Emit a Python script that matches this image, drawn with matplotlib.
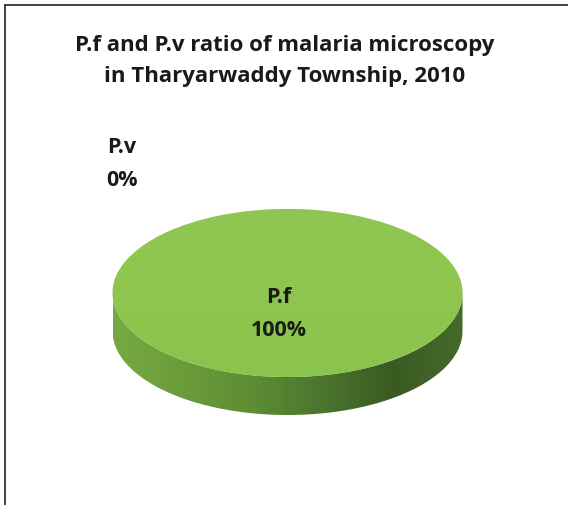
import numpy as np
import matplotlib
matplotlib.use("Agg")
import matplotlib.pyplot as plt
from matplotlib.path import Path
from matplotlib.patches import PathPatch
from matplotlib.lines import Line2D
from matplotlib.colors import LinearSegmentedColormap

title = "P.f and P.v ratio of malaria microscopy\nin Tharyarwaddy Township, 2010"
categories = ["P.f", "P.v"]
values = [100, 0]
colors = ["#8dc54d", "#c0504d"]

W, H = 568, 506
fig = plt.figure(figsize=(W / 100, H / 100), dpi=100)
fig.patch.set_facecolor("white")
ax = fig.add_axes([0, 0, 1, 1])

# ellipse geometry in pixels
cx_px, cy_px = 287.5, H - 294
a, b = 175.0, 84.0
depth = 38.0 / b

xlim = (-cx_px / a, (W - cx_px) / a)
ylim = (-cy_px / b, (H - cy_px) / b)

# side of the 3D pie, with horizontal gradient
t = np.linspace(np.pi, 2 * np.pi, 200)
bottom = np.column_stack([np.cos(t), np.sin(t) - depth])
top = np.column_stack([np.cos(t[::-1]), np.sin(t[::-1])])
verts = np.vstack([bottom, top, bottom[:1]])
codes = [Path.MOVETO] + [Path.LINETO] * (len(verts) - 2) + [Path.CLOSEPOLY]
side_path = Path(verts, codes)
side_patch = PathPatch(side_path, facecolor="none", edgecolor="none")
ax.add_patch(side_patch)
cmap = LinearSegmentedColormap.from_list(
    "side", ["#76a842", "#6a9c3a", "#5d8d34", "#4a742d", "#3a5a23", "#466a2a"])
grad = np.linspace(0, 1, 256).reshape(1, -1)
im = ax.imshow(grad, extent=[-1, 1, -1 - depth, 0.1], cmap=cmap,
               aspect="auto", origin="lower", zorder=1)
im.set_clip_path(side_patch)

# top face from the data
wedges, _ = ax.pie(values, colors=colors, startangle=90, counterclock=False,
                   radius=1, center=(0, 0), frame=True,
                   wedgeprops=dict(linewidth=0, zorder=2))
for w in wedges:
    w.set_zorder(2)
ax.set_aspect("auto")
ax.set_xlim(*xlim)
ax.set_ylim(*ylim)
ax.axis("off")

# light top-face shading
top_shade = ax.imshow(np.linspace(0, 1, 256).reshape(-1, 1), extent=[-1, 1, -1, 1],
                      cmap=LinearSegmentedColormap.from_list("tf", ["#8ac44c", "#92c956"]),
                      aspect="auto", origin="lower", zorder=3, alpha=0.6)
top_shade.set_clip_path(wedges[0])
ax.set_xlim(*xlim)
ax.set_ylim(*ylim)

font = ["Open Sans", "DejaVu Sans"]
total = sum(values)

def fx(x):
    return x / W

def fy(y):
    return 1 - y / H

fig.text(fx(285), fy(61), title, ha="center", va="center", fontsize=16,
         fontweight="bold", family=font, color="#1a1a1a", linespacing=1.62)

label_pos = {"P.f": (279, 314), "P.v": (122, 164)}
for cat, val in zip(categories, values):
    x, y = label_pos[cat]
    fig.text(fx(x), fy(y), f"{cat}\n{round(100 * val / total)}%", ha="center",
             va="center", fontsize=15.5, fontweight="bold", family=font,
             color="#1a1a1a", linespacing=1.7)

# frame lines
fig.add_artist(Line2D([fx(5), 1], [fy(6), fy(6)], color="#333333", lw=1.3))
fig.add_artist(Line2D([fx(5), fx(5)], [fy(6), 0], color="#333333", lw=1.3))

fig.savefig("out.png", dpi=100, facecolor="white")
